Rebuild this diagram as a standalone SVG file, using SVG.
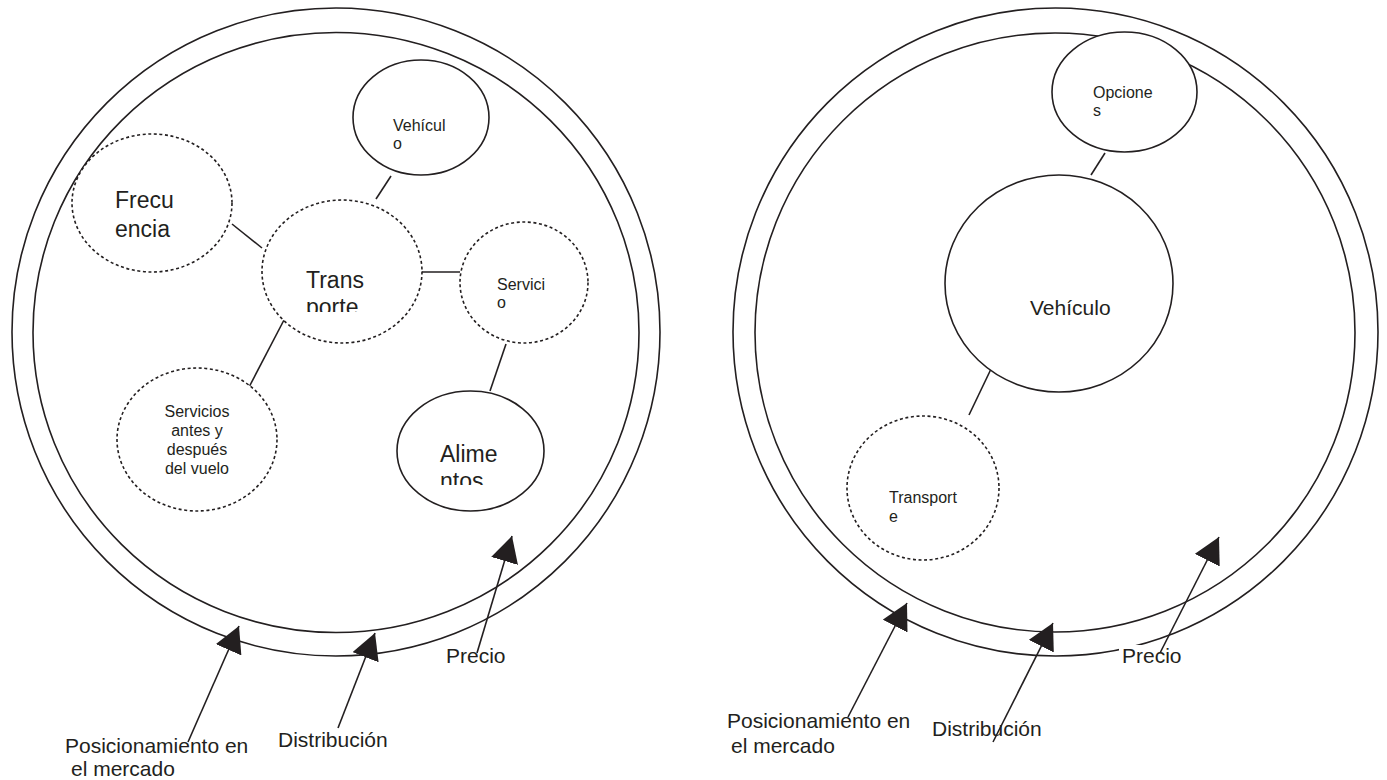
<svg xmlns="http://www.w3.org/2000/svg" width="1387" height="780" viewBox="0 0 1387 780">
  <style>
    .ring { fill: none; stroke: #231f20; stroke-width: 1.6; }
    .solid { fill: #ffffff; stroke: #231f20; stroke-width: 1.6; }
    .dashed { fill: #ffffff; stroke: #231f20; stroke-width: 1.6; stroke-dasharray: 3 2.6; }
    .link { stroke: #231f20; stroke-width: 1.6; fill: none; }
    .arrow { stroke: #231f20; stroke-width: 1.6; fill: none; marker-end: url(#head); }
    text { font-family: "Liberation Sans", Arial, sans-serif; fill: #231f20; }
    .big { font-size: 23px; }
    .mid { font-size: 21px; }
    .small { font-size: 16px; }
  </style>
  <defs>
    <marker id="head" markerUnits="userSpaceOnUse" markerWidth="27" markerHeight="28" refX="26" refY="14" orient="auto" viewBox="0 0 27 28">
      <path d="M0,0 L26,14 L0,28 Z" fill="#231f20"/>
    </marker>
    <clipPath id="clipTransporte"><rect x="260" y="190" width="170" height="122"/></clipPath>
    <clipPath id="clipAlimentos"><rect x="395" y="390" width="150" height="95"/></clipPath>
  </defs>

  <rect width="1387" height="780" fill="#ffffff"/>

  <!-- Left model: market rings -->
  <g id="left-rings">
    <ellipse class="ring" cx="336" cy="332" rx="324" ry="324"/>
    <ellipse class="ring" cx="336" cy="332.5" rx="303" ry="300"/>
  </g>

  <!-- Right model: market rings -->
  <g id="right-rings">
    <ellipse class="ring" cx="1055.5" cy="332" rx="322.5" ry="324"/>
    <ellipse class="ring" cx="1055" cy="332.5" rx="300" ry="299.5"/>
  </g>

  <!-- Connectors between concept nodes -->
  <g id="connectors">
    <line class="link" x1="391" y1="176" x2="376" y2="199"/>
    <line class="link" x1="232" y1="224" x2="262" y2="248"/>
    <line class="link" x1="422" y1="272" x2="460" y2="272"/>
    <line class="link" x1="284" y1="320" x2="247" y2="391"/>
    <line class="link" x1="506" y1="344" x2="490" y2="391"/>
    <line class="link" x1="1105" y1="153" x2="1091" y2="175"/>
    <line class="link" x1="991" y1="369" x2="969" y2="415"/>
  </g>

  <!-- Left model nodes -->
  <g id="node-vehiculo-left">
    <ellipse class="solid" cx="421" cy="117.5" rx="68" ry="57.5"/>
    <text class="small" x="393" y="131">Vehícul</text>
    <text class="small" x="393" y="149">o</text>
  </g>
  <g id="node-frecuencia">
    <ellipse class="dashed" cx="152" cy="203" rx="80" ry="69"/>
    <text class="big" x="115" y="208">Frecu</text>
    <text class="big" x="115" y="237">encia</text>
  </g>
  <g id="node-transporte-left">
    <ellipse class="dashed" cx="342" cy="271.5" rx="80" ry="71.5"/>
    <g clip-path="url(#clipTransporte)">
      <text class="big" x="306" y="288">Trans</text>
      <text class="big" x="306" y="315">porte</text>
    </g>
  </g>
  <g id="node-servicio">
    <ellipse class="dashed" cx="524" cy="282.5" rx="64" ry="60.5"/>
    <text class="small" x="497" y="290">Servici</text>
    <text class="small" x="497" y="308">o</text>
  </g>
  <g id="node-servicios-vuelo">
    <ellipse class="dashed" cx="197" cy="439.5" rx="80" ry="71.5"/>
    <text class="small" x="197" y="417" text-anchor="middle">Servicios</text>
    <text class="small" x="197" y="436" text-anchor="middle">antes y</text>
    <text class="small" x="197" y="455" text-anchor="middle">después</text>
    <text class="small" x="197" y="474" text-anchor="middle">del vuelo</text>
  </g>
  <g id="node-alimentos">
    <ellipse class="solid" cx="470.5" cy="451" rx="73.5" ry="60"/>
    <g clip-path="url(#clipAlimentos)">
      <text class="big" x="440" y="462">Alime</text>
      <text class="big" x="440" y="489">ntos</text>
    </g>
  </g>

  <!-- Right model nodes -->
  <g id="node-opciones">
    <ellipse class="solid" cx="1124.5" cy="92" rx="72.5" ry="60"/>
    <text class="small" x="1093" y="98">Opcione</text>
    <text class="small" x="1093" y="116">s</text>
  </g>
  <g id="node-vehiculo-right">
    <ellipse class="solid" cx="1059" cy="283.5" rx="114" ry="108.5"/>
    <text class="mid" x="1030" y="315">Vehículo</text>
  </g>
  <g id="node-transporte-right">
    <ellipse class="dashed" cx="923" cy="488" rx="76" ry="72"/>
    <text class="small" x="889" y="503">Transport</text>
    <text class="small" x="889" y="522">e</text>
  </g>

  <!-- Left model: external factors -->
  <g id="labels-left">
    <text class="mid" x="65" y="753">Posicionamiento en</text>
    <text class="mid" x="71" y="776">el mercado</text>
    <text class="mid" x="278" y="747">Distribución</text>
    <text class="mid" x="446" y="663">Precio</text>
  </g>
  <g id="arrows-left">
    <line class="arrow" x1="188" y1="742" x2="239" y2="626"/>
    <line class="arrow" x1="338" y1="728" x2="375" y2="633"/>
    <line class="arrow" x1="477" y1="653" x2="512" y2="536"/>
  </g>

  <!-- Right model: external factors -->
  <g id="labels-right">
    <text class="mid" x="727" y="728">Posicionamiento en</text>
    <text class="mid" x="731" y="753">el mercado</text>
    <text class="mid" x="932" y="736">Distribución</text>
    <rect x="1119" y="645" width="62" height="23" fill="#ffffff"/>
    <text class="mid" x="1122" y="663">Precio</text>
  </g>
  <g id="arrows-right">
    <line class="arrow" x1="848" y1="717" x2="907" y2="603"/>
    <line class="arrow" x1="993" y1="742" x2="1053" y2="623"/>
    <line class="arrow" x1="1160" y1="653" x2="1219" y2="537"/>
  </g>
</svg>
